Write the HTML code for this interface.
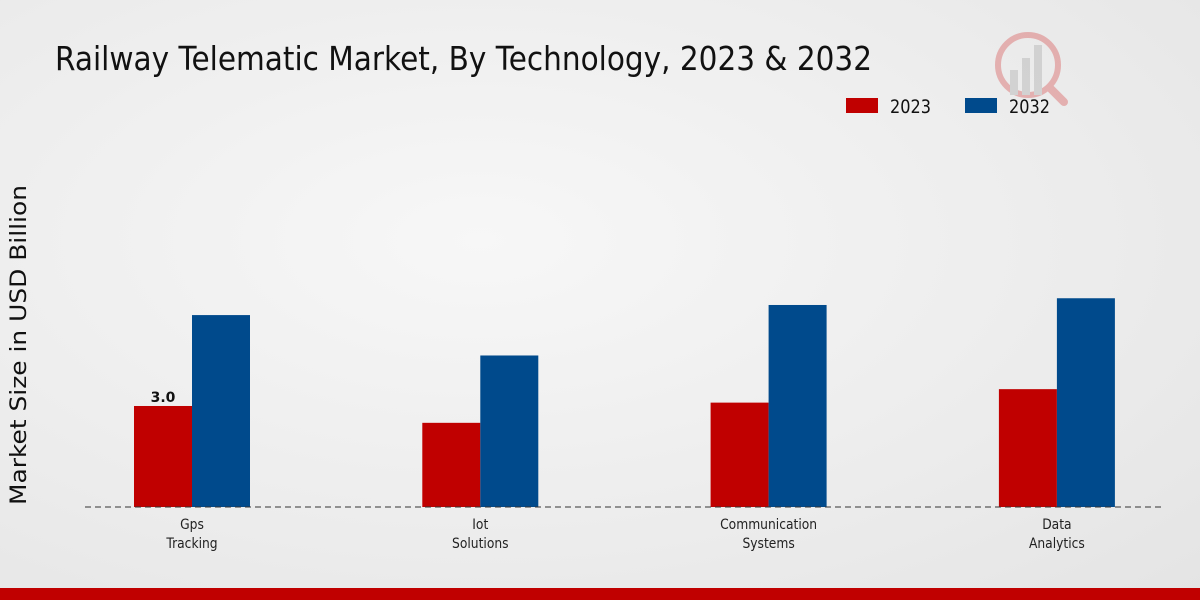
<!DOCTYPE html>
<html><head><meta charset="utf-8"><style>
html,body{margin:0;padding:0;width:1200px;height:600px;overflow:hidden}
body{background:radial-gradient(ellipse at 40% 40%,#f7f7f7 0%,#ececec 60%,#e4e4e4 100%);font-family:"DejaVu Sans","Liberation Sans",sans-serif}
</style></head><body>
<svg id="chart" width="1200" height="600" xmlns="http://www.w3.org/2000/svg">
<text x="55" y="70" font-size="33" fill="#111" textLength="817" lengthAdjust="spacingAndGlyphs">Railway Telematic Market, By Technology, 2023 &amp; 2032</text>
<g opacity="0.25">
<circle cx="1028" cy="65" r="30" fill="none" stroke="#c00" stroke-width="6"/>
<rect x="1010" y="70" width="8" height="25" fill="#888"/><rect x="1022" y="58" width="8" height="37" fill="#888"/><rect x="1034" y="45" width="8" height="50" fill="#888"/>
<line x1="1050" y1="88" x2="1064" y2="102" stroke="#c00" stroke-width="8" stroke-linecap="round"/>
</g>
<g>
<rect x="846" y="98" width="32" height="15" fill="#c00000"/>
<text x="890" y="113" font-size="19" fill="#111" textLength="41" lengthAdjust="spacingAndGlyphs">2023</text>
<rect x="965" y="98" width="32" height="15" fill="#004a8c"/>
<text x="1009" y="113" font-size="19" fill="#111" textLength="41" lengthAdjust="spacingAndGlyphs">2032</text>
</g>
<text transform="translate(26,345) rotate(-90)" text-anchor="middle" font-size="22" fill="#111" textLength="320" lengthAdjust="spacingAndGlyphs">Market Size in USD Billion</text>
<g id="bars"></g>
<line x1="85" y1="507" x2="1165" y2="507" stroke="#333" stroke-dasharray="6,4" stroke-width="1"/>
<g id="xlabels"></g>
<rect x="0" y="588" width="1200" height="12" fill="#c00000"/>
</svg>
<script>
const categories=[["Gps","Tracking"],["Iot","Solutions"],["Communication","Systems"],["Data","Analytics"]];
const values2023=[3.0,2.5,3.1,3.5];
const values2032=[5.7,4.5,6.0,6.2];
const labels2023=["3.0","","",""];
const NS="http://www.w3.org/2000/svg";
const base=507, scale=33.67, x0=192, step=288.3, bw=58;
const yPix=v=>base-v*scale;
const xC=i=>x0+i*step;
const bars=document.getElementById('bars'), xl=document.getElementById('xlabels');
function rect(x,v,fill,name){const r=document.createElementNS(NS,'rect');
r.setAttribute('x',x);r.setAttribute('y',yPix(v));r.setAttribute('width',bw);r.setAttribute('height',base-yPix(v));r.setAttribute('fill',fill);


bars.appendChild(r);}
categories.forEach((c,i)=>{
rect(xC(i)-bw,values2023[i],'#c00000','bar-2023-'+i);
rect(xC(i),values2032[i],'#004a8c','bar-2032-'+i);
if(labels2023[i]){const t=document.createElementNS(NS,'text');
t.setAttribute('x',xC(i)-bw/2);t.setAttribute('y',yPix(values2023[i])-4);t.setAttribute('text-anchor','middle');t.setAttribute('font-size','14');t.setAttribute('font-weight','bold');t.setAttribute('fill','#111');t.textContent=labels2023[i];


bars.appendChild(t);}
c.forEach((line,j)=>{const t=document.createElementNS(NS,'text');
t.setAttribute('x',xC(i));t.setAttribute('y',529+j*19);t.setAttribute('text-anchor','middle');t.setAttribute('font-size','14');t.setAttribute('fill','#222');t.setAttribute('transform','translate('+xC(i)+',0) scale(0.88,1) translate('+(-xC(i))+',0)');t.textContent=line;


xl.appendChild(t);});
});
</script>
</body></html>
